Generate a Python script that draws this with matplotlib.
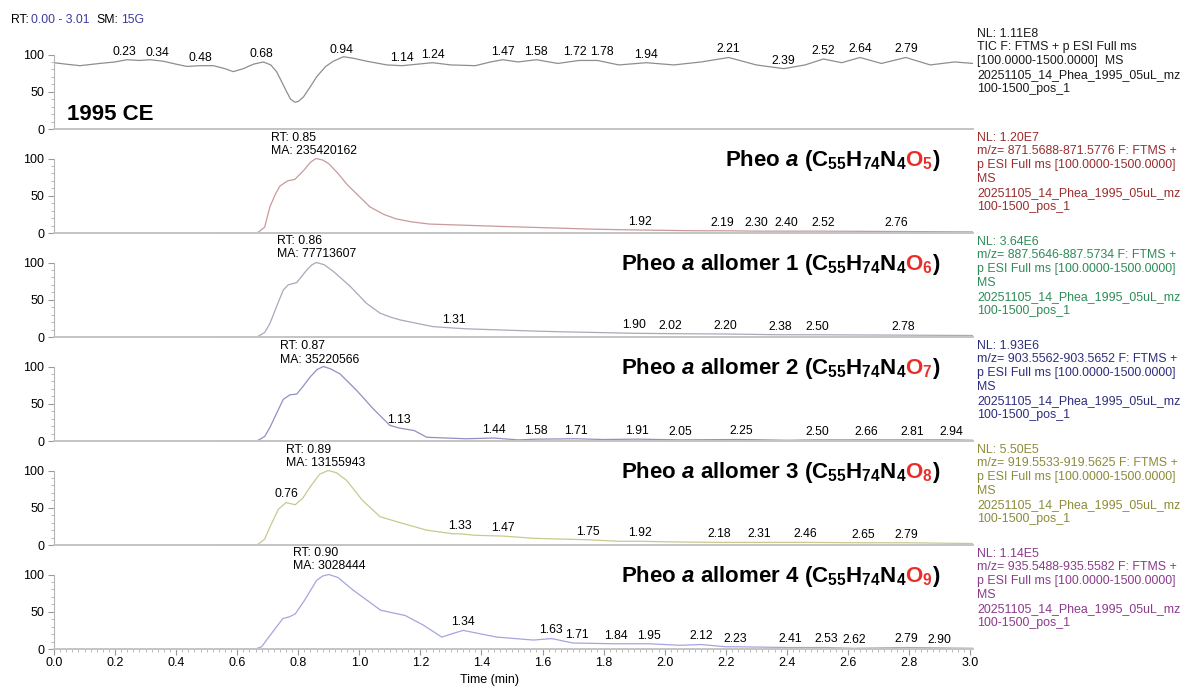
import numpy as np
import matplotlib
matplotlib.use('Agg')
import matplotlib.pyplot as plt
import matplotlib.transforms as mtransforms
from matplotlib.ticker import MultipleLocator, FixedLocator

# ==========================================
# CROMATOGRAMAS: TIC + XIC de Pheo a y alómeros (1995 CE)
# ==========================================

plt.rcParams['font.family'] = ['Liberation Sans', 'DejaVu Sans']
plt.rcParams['mathtext.fontset'] = 'custom'
plt.rcParams['mathtext.rm'] = 'Liberation Sans:bold'
plt.rcParams['mathtext.it'] = 'Liberation Sans:italic:bold'
plt.rcParams['mathtext.bf'] = 'Liberation Sans:bold'

# --- DATOS (tiempo en min, intensidad relativa %) ---
tic_t = [0.00, 0.04, 0.085, 0.15, 0.20, 0.238, 0.28, 0.314, 0.358, 0.40, 0.435, 0.48,
         0.522, 0.56, 0.587, 0.62, 0.653, 0.686, 0.71, 0.729, 0.745, 0.762, 0.775, 0.789,
         0.80, 0.817, 0.84, 0.86, 0.89, 0.915, 0.948, 0.98, 1.024, 1.09, 1.14, 1.19, 1.24,
         1.30, 1.38, 1.43, 1.47, 1.52, 1.58, 1.65, 1.72, 1.78, 1.85, 1.94, 2.03, 2.12,
         2.21, 2.30, 2.39, 2.46, 2.52, 2.58, 2.64, 2.71, 2.79, 2.87, 2.95, 3.01]
tic_i = [89, 87, 85, 88, 90, 93, 92, 93, 91, 87, 84, 85,
         85, 81, 77, 81, 87, 90, 86, 77, 64, 50, 40, 36,
         37, 43, 57, 70, 84, 91, 97, 95, 91, 86, 85, 87, 89,
         86, 85, 90, 93, 90, 93, 88, 92, 92, 86, 89, 86, 90,
         96, 86, 81, 86, 94, 89, 96, 88, 96, 86, 90, 88]
tic_picos = [0.23, 0.34, 0.48, 0.68, 0.94, 1.14, 1.24, 1.47, 1.58, 1.72, 1.78, 1.94,
             2.21, 2.39, 2.52, 2.64, 2.79]

pheo_t = [0.53, 0.66, 0.669, 0.69, 0.707, 0.725, 0.74, 0.765, 0.789, 0.82, 0.84, 0.858,
          0.88, 0.90, 0.93, 0.96, 1.00, 1.035, 1.08, 1.12, 1.17, 1.23, 1.45, 1.78, 1.92,
          2.10, 2.19, 2.30, 2.40, 2.52, 2.76, 3.01]
pheo_i = [0, 0, 1, 8, 35, 52, 63, 70, 72, 85, 95, 100,
          98, 93, 80, 65, 49, 35, 25, 19, 15, 12, 9, 5, 4,
          3, 3, 2.5, 2.5, 2.5, 2, 1.5]
pheo_picos = [1.92, 2.19, 2.30, 2.40, 2.52, 2.76]

al1_t = [0.53, 0.66, 0.669, 0.69, 0.707, 0.73, 0.751, 0.767, 0.795, 0.828, 0.845, 0.86,
         0.885, 0.915, 0.97, 1.024, 1.068, 1.10, 1.133, 1.24, 1.31, 1.35, 1.57, 1.66, 1.90,
         2.02, 2.20, 2.38, 2.50, 2.78, 3.01]
al1_i = [0, 0, 1, 6, 18, 42, 63, 70, 73, 90, 97, 100,
         97, 88, 68, 45, 32, 27, 23, 14, 12, 11, 8, 7, 5,
         4.5, 4, 3, 3, 2.5, 2]
al1_picos = [1.31, 1.90, 2.02, 2.20, 2.38, 2.50, 2.78]

al2_t = [0.53, 0.66, 0.669, 0.69, 0.707, 0.73, 0.751, 0.773, 0.795, 0.815, 0.839, 0.862,
         0.882, 0.905, 0.937, 0.991, 1.046, 1.10, 1.13, 1.18, 1.221, 1.35, 1.44, 1.52,
         1.58, 1.71, 1.80, 1.91, 2.05, 2.25, 2.40, 2.50, 2.66, 2.81, 2.94, 3.01]
al2_i = [0, 0, 1, 6, 18, 38, 56, 62, 63, 73, 86, 96,
         100, 97, 90, 68, 43, 21, 17.5, 14, 5, 3, 4, 1.5,
         2.5, 3, 2, 2.5, 1.5, 2, 1, 1.5, 1.5, 1.5, 1.5, 1]
al2_picos = [1.13, 1.44, 1.58, 1.71, 1.91, 2.05, 2.25, 2.50, 2.66, 2.81, 2.94]

al3_t = [0.53, 0.66, 0.669, 0.69, 0.707, 0.735, 0.76, 0.79, 0.815, 0.839, 0.87, 0.898,
         0.925, 0.958, 1.01, 1.068, 1.133, 1.22, 1.307, 1.33, 1.38, 1.47, 1.57, 1.66,
         1.75, 1.85, 1.92, 2.05, 2.18, 2.31, 2.46, 2.65, 2.79, 3.01]
al3_i = [0, 0, 1, 8, 24, 48, 57, 54, 63, 78, 95, 100,
         97, 87, 60, 38, 30, 20, 15, 15, 13, 12, 9, 8,
         7, 5, 5, 4, 3.5, 3.5, 3.5, 3, 3, 2]
al3_picos = [0.76, 1.33, 1.47, 1.75, 1.92, 2.18, 2.31, 2.46, 2.65, 2.79]

al4_t = [0.53, 0.66, 0.68, 0.72, 0.75, 0.77, 0.79, 0.82, 0.86, 0.88, 0.90, 0.93, 0.98,
         1.07, 1.15, 1.21, 1.27, 1.30, 1.34, 1.45, 1.57, 1.63, 1.70, 1.84, 1.95, 2.05,
         2.12, 2.20, 2.23, 2.41, 2.53, 2.62, 2.79, 2.90, 3.01]
al4_i = [0, 0, 3, 25, 41, 43, 47, 65, 92, 98, 100, 96, 79,
         52, 45, 32, 16, 20, 25, 16, 12, 14, 8, 7, 7, 5,
         6, 3, 3, 2, 2, 1, 2, 1.5, 1]
al4_picos = [1.34, 1.63, 1.71, 1.84, 1.95, 2.12, 2.23, 2.41, 2.53, 2.62, 2.79, 2.90]

# pico principal (RT, MA) de cada XIC
rt_max = [0.85, 0.86, 0.87, 0.89, 0.90]
ma_max = [235420162, 77713607, 35220566, 13155943, 3028444]

nombres = ['', 'allomer 1 ', 'allomer 2 ', 'allomer 3 ', 'allomer 4 ']
oxigenos = ['5', '6', '7', '8', '9']
nl = ['1.20E7', '3.64E6', '1.93E6', '5.50E5', '1.14E5']
mz = ['871.5688-871.5776', '887.5646-887.5734', '903.5562-903.5652',
      '919.5533-919.5625', '935.5488-935.5582']

# colores (traza / texto de cabecera)
col_traza = ['#8e8e8e', '#c99a9a', '#a9a9b9', '#9090c2', '#c9c98f', '#a5a5de']
col_info = ['#1a1a1a', '#9b2d2d', '#2e8b57', '#2d2d7d', '#8b8b3a', '#8b3a8b']
ROJO = '#e8302a'
AZUL = '#3c3c9c'

fig = plt.figure(figsize=(11.85, 6.88), dpi=100)
renderer = fig.canvas.get_renderer()


def texto_partes(x, y, partes, trans, size, ha='left', weight='normal'):
    """Escribe varios trozos de texto seguidos (cada uno con su color)"""
    objs = []
    for s, c, hueco in partes:
        o = fig.text(x, y, s, color=c, fontsize=size, fontweight=weight,
                     ha='left', va='baseline', transform=trans)
        objs.append((o, hueco, o.get_window_extent(renderer).width))
    total = sum(h + w for _, h, w in objs)
    dx = -total if ha == 'right' else 0
    for o, hueco, w in objs:
        dx += hueco
        o.set_transform(trans + mtransforms.ScaledTranslation(dx / fig.dpi, 0, fig.dpi_scale_trans))
        dx += w


def etiquetas_picos(ax, tt, ii, picos):
    """Etiquetas de RT sobre la traza, separando las que se pisan"""
    etq = []
    for rt in picos:
        h = np.interp(rt, tt, ii)
        a = ax.annotate(f'{rt:.2f}', xy=(rt, h), xytext=(0, 1.5), textcoords='offset points',
                        ha='center', va='bottom', fontsize=8.8)
        etq.append(a)
    # separar vecinas si se solapan (en píxeles)
    for a, b in zip(etq[:-1], etq[1:]):
        ea, eb = a.get_window_extent(renderer), b.get_window_extent(renderer)
        falta = ea.x1 + 3 - eb.x0
        if falta > 0:
            pt = falta / 2 * 72 / fig.dpi
            a.set_position((a.get_position()[0] - pt, 1.5))
            b.set_position((b.get_position()[0] + pt, 1.5))


series = [(tic_t, tic_i, tic_picos), (pheo_t, pheo_i, pheo_picos), (al1_t, al1_i, al1_picos),
          (al2_t, al2_i, al2_picos), (al3_t, al3_i, al3_picos), (al4_t, al4_i, al4_picos)]

IZQ, ANCHO = 54 / 1185, 919 / 1185
YMAX = 139.6

for k, (tt, ii, picos) in enumerate(series):
    base = 129 + 104 * k
    ax = fig.add_axes([IZQ, 1 - base / 688, ANCHO, 104 / 688])
    ax.patch.set_visible(False)
    ax.set_xlim(0, 3.01)
    ax.set_ylim(0, YMAX)

    ax.plot(tt, ii, color=col_traza[k], lw=0.9)

    # ejes al estilo Xcalibur
    for lado in ['top', 'right']:
        ax.spines[lado].set_visible(False)
    ax.spines['left'].set_bounds(0, 100)
    ax.spines['left'].set_color('#b5b5b5')
    ax.spines['bottom'].set_color('#c4c4c4')
    ax.spines['bottom'].set_linewidth(1.4)
    ax.set_yticks([0, 50, 100])
    ax.yaxis.set_minor_locator(FixedLocator(np.arange(0, 101, 10)))
    ax.tick_params(axis='y', which='major', length=4, color='#999999', labelsize=9, pad=3)
    ax.tick_params(axis='y', which='minor', length=2.5, color='#b0b0b0')

    if k == len(series) - 1:
        ax.xaxis.set_major_locator(MultipleLocator(0.2))
        ax.xaxis.set_minor_locator(MultipleLocator(0.02))
        ax.tick_params(axis='x', which='major', length=4, color='#999999', labelsize=9, pad=2)
        ax.tick_params(axis='x', which='minor', length=2, color='#b0b0b0')
        ax.set_xlabel('Time (min)', fontsize=9)
        ax.xaxis.set_label_coords(0.474, -0.24)
    else:
        ax.tick_params(axis='x', which='both', bottom=False, labelbottom=False)

    etiquetas_picos(ax, tt, ii, picos)

    if k == 0:
        ax.text(0.043, 12, '1995 CE', fontsize=16, fontweight='bold', va='baseline')
        info = ('NL: 1.11E8\nTIC F: FTMS + p ESI Full ms\n[100.0000-1500.0000]  MS\n'
                '20251105_14_Phea_1995_05uL_mz\n100-1500_pos_1')
    else:
        j = k - 1
        h = np.interp(rt_max[j], tt, ii)
        ax.annotate(f'RT: {rt_max[j]:.2f}\nMA: {ma_max[j]}', xy=(rt_max[j], h),
                    xytext=(0, 2), textcoords='offset points', ha='center', va='bottom',
                    multialignment='left', linespacing=1.13, fontsize=8.8)
        info = (f'NL: {nl[j]}\nm/z= {mz[j]} F: FTMS +\np ESI Full ms [100.0000-1500.0000]\nMS\n'
                '20251105_14_Phea_1995_05uL_mz\n100-1500_pos_1')
        # título con la fórmula (O en rojo)
        texto_partes(2.90, 90, [
            (r'Pheo $\mathit{a}$ ' + nombres[j] + r'(C$_{55}$H$_{74}$N$_{4}$', 'black', 0),
            (r'O$_{' + oxigenos[j] + '}$', ROJO, -1.5),
            (')', 'black', -0.5),
        ], ax.transData, 16, ha='right', weight='bold')

    ax.text(1.0044, 0.975, info, transform=ax.transAxes, ha='left', va='top',
            fontsize=8.9, color=col_info[k], linespacing=1.2)

# cabecera superior izquierda
texto_partes(11 / 1185, 1 - 23 / 688, [
    ('RT:', 'black', 0),
    ('0.00 - 3.01', AZUL, 2.5),
    ('SM:', 'black', 7),
    ('15G', AZUL, 2.5),
], fig.transFigure, 8.8)

plt.savefig('out.png', dpi=100)
